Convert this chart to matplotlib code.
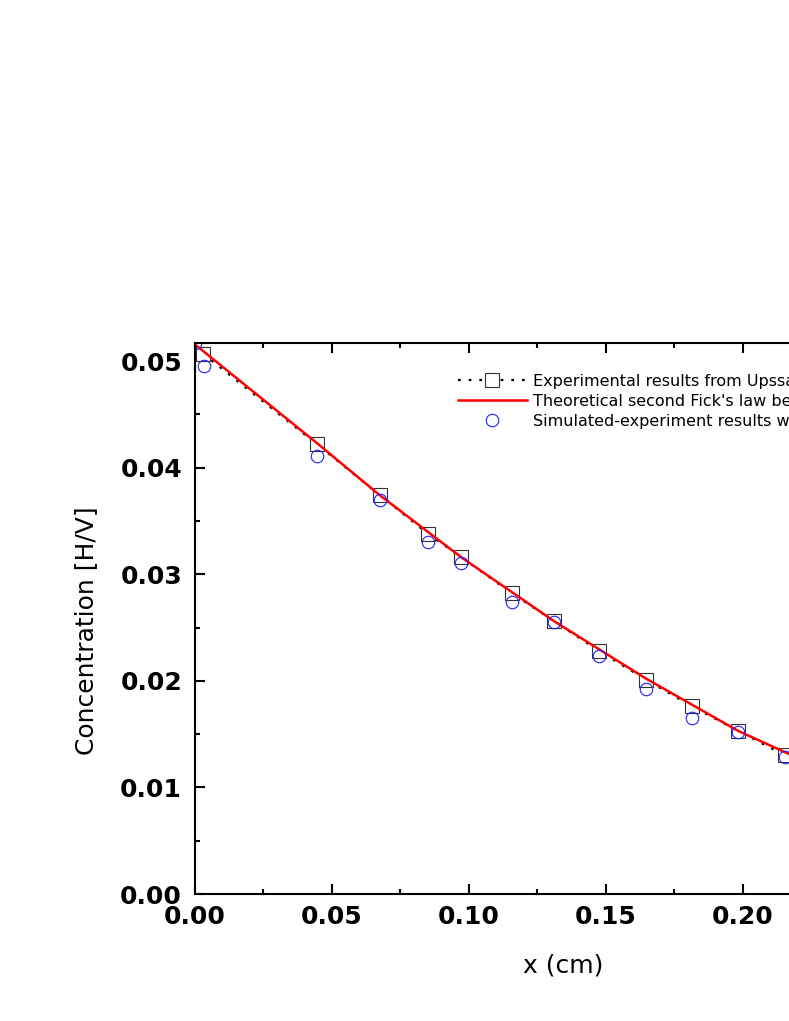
import numpy as np
import matplotlib
matplotlib.use("Agg")
import matplotlib.pyplot as plt
from matplotlib.ticker import MultipleLocator, FormatStrFormatter

# experimental points (squares)
x_exp = [0.0031, 0.0447, 0.0677, 0.0852, 0.0973, 0.1159, 0.1312, 0.1476, 0.1648, 0.1816, 0.1984, 0.2155]
c_exp = [0.0507, 0.0422, 0.0374, 0.0338, 0.0316, 0.0282, 0.0256, 0.0228, 0.0201, 0.0176, 0.0153, 0.0130]

# theoretical curve (red)
x_th = [0.0, 0.0447, 0.0677, 0.0973, 0.1312, 0.1648, 0.1984, 0.2155, 0.25, 0.27]
c_th = [0.0516, 0.0423, 0.0374, 0.0316, 0.0256, 0.0202, 0.0153, 0.0133, 0.0092, 0.0072]

# simulated experiment (circles)
x_sim = [0.0, 0.0035, 0.0447, 0.0677, 0.0852, 0.0973, 0.1159, 0.1312, 0.1476, 0.1648, 0.1816, 0.1984, 0.2155]
c_sim = [0.0517, 0.0495, 0.0411, 0.0370, 0.0330, 0.0311, 0.0274, 0.0255, 0.0223, 0.0192, 0.0165, 0.0152, 0.0129]

labels = ["Experimental results from Upssala University",
          "Theoretical second Fick's law behaviour",
          "Simulated-experiment results with the model"]

fig = plt.figure(figsize=(7.89, 10.21), dpi=100)
ax = fig.add_axes([194.5/789, 127/1021, 740/789, 551/1021])

ax.plot(x_exp, c_exp, color='black', linestyle=(0, (1.2, 3.6)), linewidth=1.6,
        marker='s', markersize=9.5, markerfacecolor='white', markeredgecolor='#333333',
        markeredgewidth=0.8, label=labels[0])
ax.plot(x_th, c_th, color='red', linewidth=1.8, label=labels[1])
ax.plot(x_sim, c_sim, linestyle='none', marker='o', markersize=9,
        markerfacecolor='none', markeredgecolor='#2020ff', markeredgewidth=0.8,
        label=labels[2])

ax.set_xlim(0, 0.27)
ax.set_ylim(0, 0.0517)

ax.xaxis.set_major_locator(MultipleLocator(0.05))
ax.xaxis.set_minor_locator(MultipleLocator(0.025))
ax.yaxis.set_major_locator(MultipleLocator(0.01))
ax.yaxis.set_minor_locator(MultipleLocator(0.005))
ax.xaxis.set_major_formatter(FormatStrFormatter('%.2f'))
ax.yaxis.set_major_formatter(FormatStrFormatter('%.2f'))

for s in ax.spines.values():
    s.set_linewidth(1.5)
ax.tick_params(which='both', direction='in', top=True, right=True, width=1.5)
ax.tick_params(which='major', length=7)
ax.tick_params(which='minor', length=3.6)
ax.tick_params(axis='x', which='major', pad=8)
ax.tick_params(axis='y', which='major', pad=9)
for t in ax.get_xticklabels() + ax.get_yticklabels():
    t.set_fontsize(18)
    t.set_fontweight('bold')

ax.set_xlabel('x (cm)', fontsize=18)
ax.set_ylabel('Concentration [H/V]', fontsize=18)
ax.xaxis.set_label_coords((563 - 194.5) / 740, -(953 - 894) / 551)
ax.yaxis.set_label_coords(-(194.5 - 98) / 740, (894 - 631) / 551)

ax.legend(loc='upper left', bbox_to_anchor=((458 - 194.5) / 740, (894 - 374) / 551),
          frameon=False, fontsize=11.5, handlelength=4.3, handletextpad=0.4,
          labelspacing=0.3, borderpad=0, borderaxespad=0, numpoints=1)

fig.savefig("out.png", dpi=100)
